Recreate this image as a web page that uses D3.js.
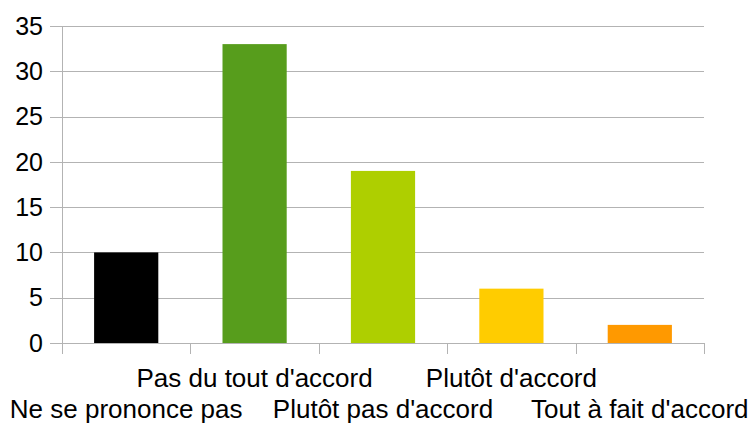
<!DOCTYPE html>
<html><head><meta charset="utf-8">
<script src="https://cdn.jsdelivr.net/npm/d3@7"></script>
<style>body{margin:0;background:#fff;}svg{display:block;} text{font-family:"Liberation Sans", Arial, sans-serif;}</style>
</head><body>
<svg id="c" width="751" height="426"></svg>
<script>
const categories = ["Ne se prononce pas","Pas du tout d'accord","Plutôt pas d'accord","Plutôt d'accord","Tout à fait d'accord"];
const values = [10, 33, 19, 6, 2];
const colors = ["#000000","#579d1c","#aecf00","#ffcc00","#ff9900"];
const yTicks = [0,5,10,15,20,25,30,35];

(function(){
const svg = d3.select("#c");
const pLeft = 62, pRight = 704, pTop = 26, pBottom = 343;
const x = d3.scaleBand().domain(categories).range([pLeft, pRight]).paddingInner(0.5).paddingOuter(0.25);
const xb = d3.scaleBand().domain(categories).range([pLeft, pRight]);
const y = d3.scaleLinear().domain([0, 35]).range([pBottom, pTop]);
const grid = "#b3b3b3";

svg.append("g").selectAll("line").data(yTicks).join("line")
  .attr("x1", 50).attr("x2", pRight)
  .attr("y1", d => Math.round(y(d)) + 0.5).attr("y2", d => Math.round(y(d)) + 0.5)
  .attr("stroke", grid).attr("stroke-width", 1);
svg.append("g").selectAll("text").data(yTicks).join("text")
  .attr("x", 43).attr("y", d => y(d)).attr("dy", "0.35em")
  .attr("text-anchor", "end").attr("font-size", 25).attr("fill", "#000")
  .text(d => d);

svg.append("line").attr("x1", pLeft + 0.5).attr("x2", pLeft + 0.5).attr("y1", pTop).attr("y2", pBottom)
  .attr("stroke", grid);

svg.append("g").selectAll("rect").data(values).join("rect")
  .attr("x", (d, i) => x(categories[i])).attr("width", x.bandwidth())
  .attr("y", d => y(d)).attr("height", d => y(0) - y(d))
  .attr("fill", (d, i) => colors[i]);

const bounds = categories.map(c => xb(c)).concat([pRight]);
svg.append("g").selectAll("line").data(bounds).join("line")
  .attr("x1", d => Math.round(d) + 0.5).attr("x2", d => Math.round(d) + 0.5)
  .attr("y1", pBottom).attr("y2", pBottom + 11).attr("stroke", grid);
svg.append("line").attr("x1", pLeft).attr("x2", pRight).attr("y1", Math.round(y(0)) + 0.5).attr("y2", Math.round(y(0)) + 0.5)
  .attr("stroke", grid);

svg.append("g").selectAll("text").data(categories).join("text")
  .attr("x", d => xb(d) + xb.bandwidth() / 2)
  .attr("y", (d, i) => i % 2 === 1 ? 387 : 418)
  .attr("text-anchor", "middle").attr("font-size", 26).attr("fill", "#000")
  .text(d => d);
})();
</script>
</body></html>
